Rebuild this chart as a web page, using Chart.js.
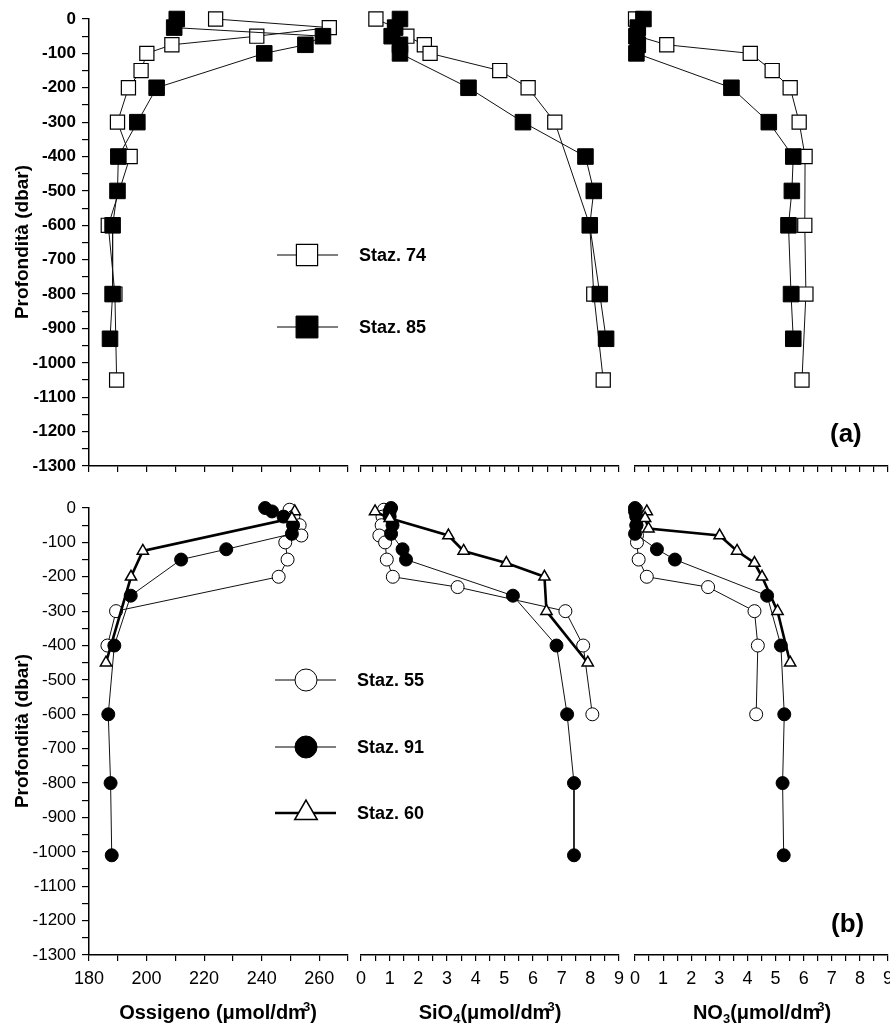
<!DOCTYPE html>
<html><head><meta charset="utf-8">
<script src="https://cdn.jsdelivr.net/npm/chart.js@4.4.0/dist/chart.umd.min.js"></script>
<style>
html,body{margin:0;padding:0;background:#fff;}
body{width:890px;height:1034px;overflow:hidden;position:relative;font-family:"Liberation Sans",Arial,sans-serif;color:#000;}
canvas{position:absolute;}
.t{position:absolute;white-space:nowrap;color:#000;}
.leg{font-weight:bold;font-size:18px;line-height:20px;}
.ytitle{font-weight:bold;font-size:19px;width:300px;text-align:center;transform:rotate(-90deg);line-height:24px;}
.xtitle{font-weight:bold;font-size:20px;width:300px;text-align:center;line-height:24px;}
.xtitle sub{font-size:13px;vertical-align:-4px;line-height:0;}
.xtitle sup{font-size:13px;vertical-align:8px;line-height:0;margin-left:-3px;}
.pl{font-weight:bold;font-size:26px;line-height:30px;}
</style></head><body>
<canvas id="cOa" width="440" height="486" style="left:0;top:0"></canvas>
<canvas id="cSa" width="300" height="486" style="left:340px;top:0"></canvas>
<canvas id="cNa" width="288" height="486" style="left:612px;top:0"></canvas>
<canvas id="cOb" width="440" height="544" style="left:0;top:490px"></canvas>
<canvas id="cSb" width="300" height="544" style="left:340px;top:490px"></canvas>
<canvas id="cNb" width="288" height="544" style="left:612px;top:490px"></canvas>

<div class="t ytitle" style="left:-128px;top:230px">Profondità (dbar)</div>
<div class="t ytitle" style="left:-128px;top:719px">Profondità (dbar)</div>
<div class="t leg" style="left:359px;top:245px">Staz. 74</div>
<div class="t leg" style="left:359px;top:317px">Staz. 85</div>
<div class="t leg" style="left:357px;top:670px">Staz. 55</div>
<div class="t leg" style="left:357px;top:737px">Staz. 91</div>
<div class="t leg" style="left:357px;top:803px">Staz. 60</div>
<div class="t pl" style="left:830px;top:418px">(a)</div>
<div class="t pl" style="left:831px;top:908px">(b)</div>
<div class="t xtitle" style="left:68px;top:1000px">Ossigeno (μmol/dm<sup>3</sup>)</div>
<div class="t xtitle" style="left:340px;top:1000px">SiO<sub>4</sub>(μmol/dm<sup>3</sup>)</div>
<div class="t xtitle" style="left:612px;top:1000px">NO<sub>3</sub>(μmol/dm<sup>3</sup>)</div>

<script>
// ---------- axis ticks ----------
const depthTicks = [0,-50,-100,-150,-200,-250,-300,-350,-400,-450,-500,-550,-600,-650,-700,-750,-800,-850,-900,-950,-1000,-1050,-1100,-1150,-1200,-1250,-1300];
const depthLabels = [0,-100,-200,-300,-400,-500,-600,-700,-800,-900,-1000,-1100,-1200,-1300];
const oxyTicks = [180,190,200,210,220,230,240,250,260,270];
const oxyLabels = [180,200,220,240,260];
const nutTicks = [0,0.5,1,1.5,2,2.5,3,3.5,4,4.5,5,5.5,6,6.5,7,7.5,8,8.5,9];
const nutLabels = [0,1,2,3,4,5,6,7,8,9];

// ---------- panel (a) ----------
const depth74 = [0,-25,-50,-75,-100,-150,-200,-300,-400,-600,-800,-1050];
const oxy74   = [224,263.5,238.3,208.8,200.1,198.1,193.7,189.9,194.3,186.7,189,189.6];
const sio74   = [0.52,1.2,1.6,2.21,2.41,4.84,5.83,6.76,null,7.98,8.12,8.45];
const no374   = [0.02,0.1,0.1,1.13,4.1,4.88,5.52,5.84,6.05,6.04,6.08,5.94];

const depth85 = [0,-25,-50,-75,-100,-200,-300,-400,-500,-600,-800,-930];
const oxy85   = [210.5,209.6,261.3,255.2,240.9,203.5,196.8,190.2,189.9,188.2,188.2,187.3];
const sio85   = [1.36,1.19,1.07,1.36,1.36,3.75,5.65,7.83,8.12,7.98,8.33,8.55];
const no385   = [0.3,0.1,0.05,0.1,0.05,3.43,4.76,5.63,5.58,5.46,5.55,5.63];

// ---------- panel (b) ----------
const depth55 = [-5,-25,-50,-80,-100,-150,-200,-230,-300,-400,-600];
const oxy55   = [249.7,251,253.2,253.8,248.2,249,245.9,null,189.4,186.4,null];
const sio55   = [0.8,0.75,0.72,0.64,0.84,0.9,1.11,3.37,7.13,7.75,8.07];
const no355   = [0.05,0.05,0.05,0.07,0.07,0.13,0.42,2.6,4.25,4.37,4.31];

const depth91 = [0,-10,-25,-50,-75,-120,-150,-255,-400,-600,-800,-1010];
const oxy91   = [241.2,243.6,247.6,250.9,250.5,227.7,212,194.5,188.8,186.7,187.5,187.9];
const sio91   = [1.05,1.0,1.0,1.1,1.05,1.45,1.57,5.3,6.82,7.19,7.43,7.43];
const no391   = [0,0,0.05,0.05,0,0.78,1.42,4.7,5.19,5.31,5.25,5.29];

const depth60 = [-10,-30,-60,-80,-125,-160,-200,-300,-450];
const oxy60   = [251.5,250.5,null,null,198.7,null,194.6,null,185.9];
const sio60   = [0.49,1.0,null,3.05,3.58,5.07,6.4,6.47,7.91];
const no360   = [0.42,0.36,0.48,3.01,3.63,4.25,4.52,5.07,5.52];

function pts(vals, depths){
  return depths.map((d,i)=> vals[i]==null ? null : {x: vals[i], y: d}).filter(p=>p);
}

const S = {
  s85:{pointStyle:'rect',pointRadius:11,pointBackgroundColor:'#000',pointBorderColor:'#000',pointBorderWidth:1,borderColor:'#111',borderWidth:1},
  s74:{pointStyle:'rect',pointRadius:10,pointBackgroundColor:'#fff',pointBorderColor:'#000',pointBorderWidth:1.2,borderColor:'#111',borderWidth:1},
  s91:{pointStyle:'circle',pointRadius:6.5,pointBackgroundColor:'#000',pointBorderColor:'#000',pointBorderWidth:1,borderColor:'#111',borderWidth:1},
  s55:{pointStyle:'circle',pointRadius:6.5,pointBackgroundColor:'#fff',pointBorderColor:'#000',pointBorderWidth:1,borderColor:'#111',borderWidth:1},
  s60:{pointStyle:'triangle',pointRadius:6.5,pointBackgroundColor:'#fff',pointBorderColor:'#000',pointBorderWidth:1.5,borderColor:'#000',borderWidth:2.6}
};
function ds(label, data, st){
  return Object.assign({label, data, showLine:true, clip:false, pointHoverRadius:st.pointRadius, fill:false, tension:0}, st);
}

const legendPlugin = {
  id:'legendMarks',
  afterDraw(chart, args, opts){
    if(!opts || !opts.items) return;
    const ctx = chart.ctx;
    opts.items.forEach(it=>{
      ctx.save();
      ctx.strokeStyle='#000'; ctx.lineWidth=it.st.borderWidth;
      ctx.beginPath(); ctx.moveTo(opts.x1, it.y); ctx.lineTo(opts.x2, it.y); ctx.stroke();
      ctx.fillStyle=it.st.pointBackgroundColor; ctx.strokeStyle='#000'; ctx.lineWidth=it.st.pointBorderWidth;
      Chart.helpers.drawPoint(ctx,{pointStyle:it.st.pointStyle,radius:it.r,rotation:0,borderWidth:it.st.pointBorderWidth},opts.xc,it.y);
      ctx.restore();
    });
  }
};

function makePanel(id, cfg){
  const tickFont = cfg.bottomRow ? {family:'"Liberation Sans", Arial, sans-serif',size:17,weight:'normal'} : {family:'"Liberation Sans", Arial, sans-serif',size:17,weight:'bold'};
  new Chart(document.getElementById(id), {
    type:'scatter',
    data:{datasets: cfg.datasets},
    plugins:[legendPlugin],
    options:{
      responsive:false, animation:false, devicePixelRatio:1,
      layout:{padding:{top:cfg.padTop,left:cfg.padLeft,right:cfg.padRight,bottom:0}},
      plugins:{legend:{display:false},tooltip:{enabled:false},legendMarks:cfg.legend||{}},
      scales:{
        x:{type:'linear',position:'bottom',min:cfg.xmin,max:cfg.xmax,
          afterBuildTicks:s=>{s.ticks=cfg.xTicks.map(v=>({value:v}));},
          afterFit:s=>{s.height=cfg.xH;},
          ticks:{autoSkip:false,maxRotation:0,color:'#000',padding:7,font:{family:'"Liberation Sans", Arial, sans-serif',size:18},
            callback:v=> (cfg.bottomRow && cfg.xLabels.some(l=>Math.abs(l-v)<1e-6)) ? String(v) : ''},
          grid:{drawOnChartArea:false,drawTicks:true,tickLength:6,color:'#000',lineWidth:1.2},
          border:{display:true,color:'#000',width:1.5}
        },
        y:{type:'linear',position:'left',min:-1300,max:0,display:cfg.showY,
          afterBuildTicks:s=>{s.ticks=depthTicks.map(v=>({value:v}));},
          afterFit:s=>{s.width = cfg.showY ? 89 : 0;},
          ticks:{autoSkip:false,color:'#000',padding:6,font:tickFont,
            callback:v=> depthLabels.includes(v) ? String(v) : ''},
          grid:{drawOnChartArea:false,drawTicks:true,tickLength:7,color:'#000',lineWidth:1.2},
          border:{display:true,color:'#000',width:1.5}
        }
      }
    }
  });
}

const rowA = {bottomRow:false,padTop:19,xH:20};
const rowB = {bottomRow:true,padTop:18,xH:79};
const colO = {xmin:180,xmax:270,xTicks:oxyTicks,xLabels:oxyLabels,padLeft:0,padRight:92,showY:true};
const colS = {xmin:0,xmax:9,xTicks:nutTicks,xLabels:nutLabels,padLeft:21,padRight:21,showY:false};
const colN = {xmin:0,xmax:9,xTicks:nutTicks,xLabels:nutLabels,padLeft:23,padRight:11,showY:false};

makePanel('cOa', Object.assign({}, rowA, colO, {
  datasets:[ds('Staz. 85',pts(oxy85,depth85),S.s85), ds('Staz. 74',pts(oxy74,depth74),S.s74)],
  legend:{x1:277,x2:338,xc:307,items:[{y:255,st:S.s74,r:15},{y:327,st:S.s85,r:15.5}]}
}));
makePanel('cSa', Object.assign({}, rowA, colS, {
  datasets:[ds('Staz. 85',pts(sio85,depth85),S.s85), ds('Staz. 74',pts(sio74,depth74),S.s74)]
}));
makePanel('cNa', Object.assign({}, rowA, colN, {
  datasets:[ds('Staz. 85',pts(no385,depth85),S.s85), ds('Staz. 74',pts(no374,depth74),S.s74)]
}));
makePanel('cOb', Object.assign({}, rowB, colO, {
  datasets:[ds('Staz. 60',pts(oxy60,depth60),S.s60), ds('Staz. 91',pts(oxy91,depth91),S.s91), ds('Staz. 55',pts(oxy55,depth55),S.s55)],
  legend:{x1:275,x2:336,xc:306,items:[{y:190,st:S.s55,r:11},{y:257,st:S.s91,r:11},{y:323,st:S.s60,r:13}]}
}));
makePanel('cSb', Object.assign({}, rowB, colS, {
  datasets:[ds('Staz. 60',pts(sio60,depth60),S.s60), ds('Staz. 91',pts(sio91,depth91),S.s91), ds('Staz. 55',pts(sio55,depth55),S.s55)]
}));
makePanel('cNb', Object.assign({}, rowB, colN, {
  datasets:[ds('Staz. 60',pts(no360,depth60),S.s60), ds('Staz. 91',pts(no391,depth91),S.s91), ds('Staz. 55',pts(no355,depth55),S.s55)]
}));
</script>
</body></html>
